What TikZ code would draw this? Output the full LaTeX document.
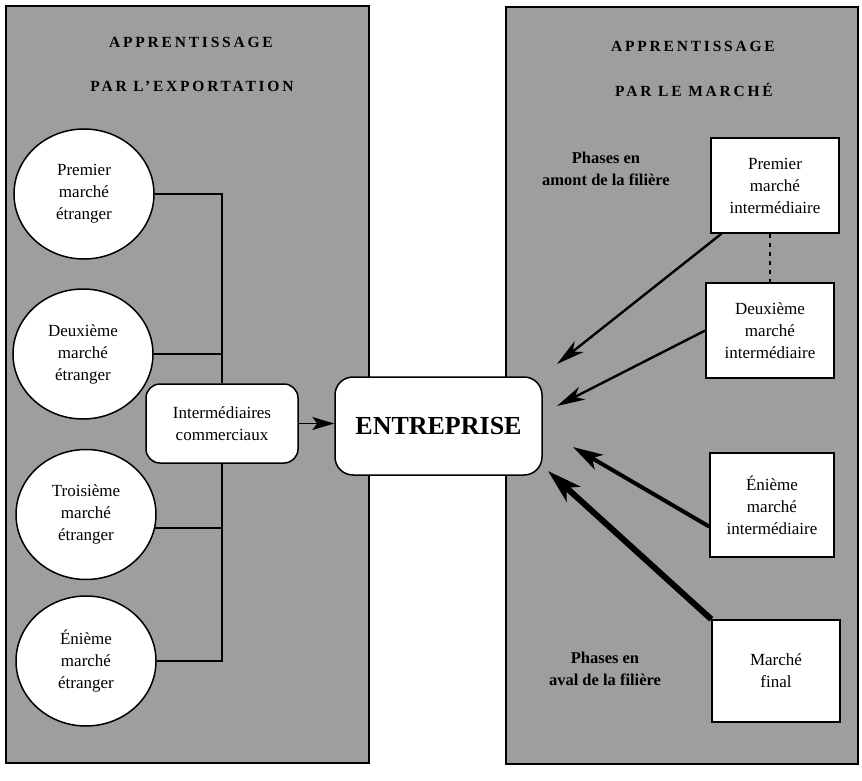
\documentclass[tikz,border=0pt]{standalone}
\usepackage{fontspec}
\setmainfont{Liberation Serif}
\usetikzlibrary{shapes.geometric,arrows.meta}
\definecolor{panelgray}{RGB}{158,158,158}
\begin{document}
\begin{tikzpicture}[x=1pt,y=-1pt,
  panel/.style={draw=black, line width=1.6pt, fill=panelgray},
  market/.style={ellipse, draw, line width=1.5pt, fill=white, minimum width=140pt, minimum height=130pt, inner sep=0pt, align=center, font=\fontsize{17}{22}\selectfont},
  rbox/.style={rectangle, draw, line width=1.5pt, fill=white, inner sep=0pt, align=center, minimum width=128pt, font=\fontsize{17}{22}\selectfont},
  roundbox/.style={rectangle, rounded corners=14pt, draw, line width=1.5pt, fill=white, inner sep=0pt, align=center},
  header/.style={font=\bfseries\fontsize{15.5}{18}\selectfont\addfontfeature{LetterSpace=18}},
  phase/.style={align=center, font=\bfseries\fontsize{16.5}{22}\selectfont},
  trunk/.style={draw, line width=1.8pt},
  thinarrow/.style={draw, line width=2.4pt, -{Stealth[length=28pt,width=14pt,inset=8pt]}},
  midarrow/.style={draw, line width=4pt, -{Stealth[length=30pt,width=17pt,inset=8pt]}},
  thickarrow/.style={draw, line width=6pt, -{Stealth[length=34pt,width=20pt,inset=9pt]}}
]
\useasboundingbox (0,0) rectangle (862,781);
% panels
\path[panel] (6,6) rectangle (369,763);
\path[panel] (506,7) rectangle (858,764);
% headers
\node[header] (hl1) at (191,42) {APPRENTISSAGE};
\node[header] (hl2) at (192,86) {PAR L'EXPORTATION};
\node[header] (hr1) at (693,46) {APPRENTISSAGE};
\node[header] (hr2) at (694,90) {PAR LE MARCHÉ};
% left markets
\node[market] (c1) at (84,194) {Premier\\marché\\étranger};
\node[market] (c2) at (83,354) {Deuxième\\marché\\étranger};
\node[market] (c3) at (86,514.5) {Troisième\\marché\\étranger};
\node[market] (c4) at (86,661) {Énième\\marché\\étranger};
% intermediaries
\node[roundbox, minimum width=152pt, minimum height=79pt, font=\fontsize{17}{22}\selectfont] (ib) at (222,423.5) {Intermédiaires\\commerciaux};
% enterprise
\node[roundbox, rounded corners=18pt, minimum width=207pt, minimum height=98pt, font=\bfseries\fontsize{26}{30}\selectfont] (ent) at (438.5,426) {ENTREPRISE};
% trunk lines
\draw[trunk] (c1.east) -| (ib.north);
\draw[trunk] (c2.east) -| (ib.north);
\draw[trunk] (c3.-11) -| (ib.south);
\draw[trunk] (c4.east) -| (ib.south);
\draw[line width=1.6pt, -{Stealth[length=22pt,width=13pt,inset=5pt]}] (ib.east) -- (ib.east -| ent.west);
% right boxes
\node[rbox, minimum height=95pt] (p1) at (775,185.5) {Premier\\marché\\intermédiaire};
\node[rbox, minimum height=95pt] (p2) at (770,330.5) {Deuxième\\marché\\intermédiaire};
\node[rbox, minimum width=124pt, minimum height=104pt] (p3) at (772,505) {Énième\\marché\\intermédiaire};
\node[rbox, minimum height=102pt] (p4) at (776,671) {Marché\\final};
\draw[line width=1.3pt, dash pattern=on 4pt off 5pt] (p2.north |- p1.south) -- (p2.north);
% phase labels
\node[phase] (ph1) at (606,169) {Phases en\\amont de la filière};
\node[phase] (ph2) at (605,669) {Phases en\\aval de la filière};
% arrow tips
\coordinate (t1) at (557,364);
\coordinate (t2) at (557,406);
\coordinate (t3) at (573,447);
\coordinate (t4) at (548,471);
\draw[thinarrow] (p1.222) -- (t1);
\draw[thinarrow] (p2.west) -- (t2);
\draw[midarrow] (p3.199) -- (t3);
\draw[thickarrow] (p4.north west) -- (t4);
\end{tikzpicture}
\end{document}
